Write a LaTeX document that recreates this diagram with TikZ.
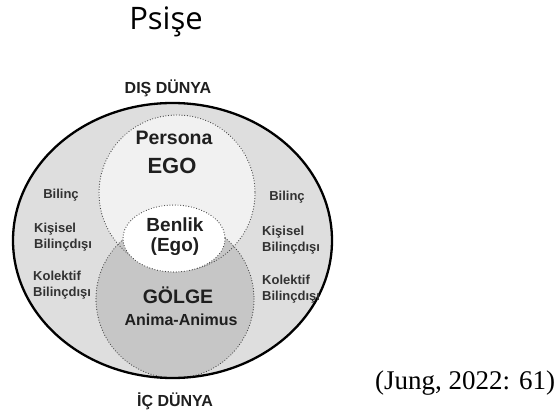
\documentclass[tikz,border=0pt]{standalone}
\usepackage{fontspec}
\setmainfont{Liberation Serif}
\newfontfamily\arialfont{Liberation Sans}
\newfontfamily\titlefont{Open Sans}
\usetikzlibrary{positioning}
\definecolor{outergray}{RGB}{222,222,222}
\definecolor{egogray}{RGB}{241,241,241}
\definecolor{shadowgray}{RGB}{198,198,198}
\definecolor{dotgray}{RGB}{70,70,70}
\definecolor{labelgray}{RGB}{50,50,50}

\begin{document}
\begin{tikzpicture}[x=1pt,y=-1pt,
  lbl/.style={font=\arialfont\bfseries\fontsize{#1}{#1}\selectfont,text=black!88,inner sep=0pt},
  side/.style={font=\arialfont\bfseries\fontsize{13}{15.5}\selectfont,text=labelgray,align=left,inner sep=0pt},
  dots/.style={draw=dotgray,line width=1.2pt,line cap=round,dash pattern=on 0pt off 2.7pt}]
  \useasboundingbox (0,0) rectangle (559,419);
  % psyche circles
  \fill[outergray] (172.5,240.5) ellipse [x radius=159.5,y radius=137.5];
  \fill[egogray] (177,193) circle [radius=78];
  \fill[shadowgray] (175,299) circle [radius=79];
  \draw[dots] (177,193) circle [radius=78];
  \draw[dots] (175,299) circle [radius=79];
  \fill[white] (174,238.5) ellipse [x radius=51,y radius=33.5];
  \draw[dots] (174,238.5) ellipse [x radius=51,y radius=33.5];
  \draw[line width=2.3pt] (172.5,240.5) ellipse [x radius=159.5,y radius=137.5];
  % labels
  \node[font=\titlefont\fontsize{31}{31}\selectfont,inner sep=0pt] (title) at (166,22) {Psişe};
  \node[lbl=16] (dis) at (168,88) {DIŞ DÜNYA};
  \node[lbl=16] (ic) at (175,401) {İÇ DÜNYA};
  \node[lbl=19.5] (persona) at (174,138) {Persona};
  \node[lbl=22] (ego) at (172,166) {EGO};
  \node[lbl=19,align=center] (benlik) at (175,237) {Benlik\\[1pt](Ego)};
  \node[lbl=19.5] (golge) at (178,295) {GÖLGE};
  \node[lbl=16] (anima) at (181,320) {Anima-Animus};
  \node[side] (bilincL) at (61,195) {Bilinç};
  \node[side,anchor=west] (kisiselL) at (34,237) {Kişisel\\Bilinçdışı};
  \node[side,anchor=west] (kolektifL) at (33,285) {Kolektif\\Bilinçdışı};
  \node[side] (bilincR) at (287,197) {Bilinç};
  \node[side,anchor=west] (kisiselR) at (262,240) {Kişisel\\Bilinçdışı};
  \node[side,anchor=west] (kolektifR) at (262,289) {Kolektif\\Bilinçdışı};
  \node[font=\fontsize{27}{27}\selectfont,anchor=west,inner sep=0pt] (kaynak) at (375,383) {(Jung, 2022: 61)};
\end{tikzpicture}
\end{document}
